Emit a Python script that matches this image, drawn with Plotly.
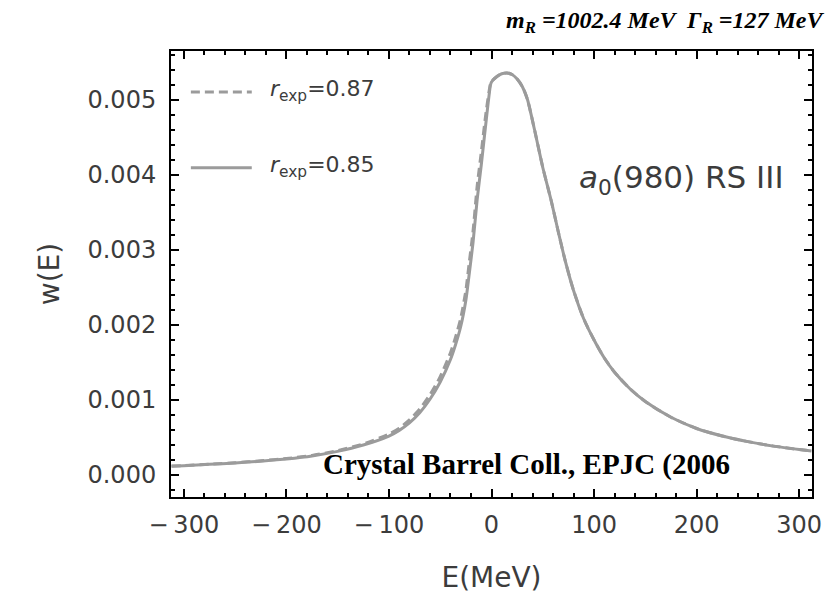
import plotly.graph_objects as go

# ---- data ----
E_MeV = [-312, -300, -275, -250, -225, -200, -175, -150, -125, -100, -90, -80, -70, -60, -50, -40, -35, -30,
         -25, -22, -18, -14, -10, -5, -1, 0, 5, 10, 15, 20, 25, 30, 35, 42, 50, 58, 65, 72, 80, 90, 100, 110,
         120, 135, 150, 175, 200, 225, 250, 275, 300, 312]
w_r085 = [0.000118, 0.000125, 0.000142, 0.000160, 0.000185, 0.000215, 0.000255, 0.000315, 0.000400, 0.000520,
          0.000595, 0.000695, 0.000830, 0.001010, 0.001240, 0.001540, 0.001740, 0.001980, 0.002330, 0.002650,
          0.003100, 0.003670, 0.004130, 0.004750, 0.005200, 0.005240, 0.005310, 0.005350, 0.005360, 0.005340,
          0.005280, 0.005180, 0.005010, 0.004600, 0.004100, 0.003670, 0.003250, 0.002850, 0.002460, 0.002080,
          0.001800, 0.001560, 0.001370, 0.001150, 0.000980, 0.000770, 0.000620, 0.000520, 0.000445, 0.000385,
          0.000340, 0.000320]
w_r087 = [0.000120, 0.000127, 0.000145, 0.000163, 0.000189, 0.000220, 0.000262, 0.000325, 0.000415, 0.000545,
          0.000625, 0.000735, 0.000880, 0.001070, 0.001310, 0.001630, 0.001840, 0.002090, 0.002460, 0.002800,
          0.003250, 0.003850, 0.004300, 0.004870, 0.005220, 0.005250, 0.005310, 0.005350, 0.005360, 0.005340,
          0.005280, 0.005180, 0.005010, 0.004600, 0.004100, 0.003670, 0.003250, 0.002850, 0.002460, 0.002080,
          0.001800, 0.001560, 0.001370, 0.001150, 0.000980, 0.000770, 0.000620, 0.000520, 0.000445, 0.000385,
          0.000340, 0.000320]

x_tickvals = [-300, -200, -100, 0, 100, 200, 300]
x_ticktext = ["\u2212\u2009300", "\u2212\u2009200", "\u2212\u2009100", "0", "100", "200", "300"]
y_tickvals = [0.000, 0.001, 0.002, 0.003, 0.004, 0.005]
y_ticktext = ["0.000", "0.001", "0.002", "0.003", "0.004", "0.005"]

series_labels = ["<i>r</i><sub>exp</sub>=0.87", "<i>r</i><sub>exp</sub>=0.85"]

LINE = "#9b9b9b"
TXT = "#3c3c3c"
FONT = "DejaVu Sans"

fig = go.Figure()
fig.add_trace(go.Scatter(x=E_MeV, y=w_r087, mode="lines", name=series_labels[0],
                         line=dict(color=LINE, width=3, dash="9px,5px", shape="spline", smoothing=0.6)))
fig.add_trace(go.Scatter(x=E_MeV, y=w_r085, mode="lines", name=series_labels[1],
                         line=dict(color=LINE, width=3, shape="spline", smoothing=0.6)))

axis_common = dict(showline=True, linecolor="black", linewidth=2, mirror="allticks",
                   ticks="inside", ticklen=8, tickwidth=2, tickcolor="black",
                   showgrid=False, zeroline=False,
                   tickfont=dict(family=FONT, size=24, color=TXT),
                   title_font=dict(family=FONT, size=28, color=TXT))

fig.update_xaxes(range=[-312.5, 312.5], tickvals=x_tickvals, ticktext=x_ticktext,
                 minor=dict(dtick=20, ticks="inside", ticklen=4, tickwidth=1.5, tickcolor="black"),
                 title_text="E(MeV)", title_standoff=30, ticklabelstandoff=5, **axis_common)
fig.update_yaxes(range=[-0.000293, 0.005653], tickvals=y_tickvals, ticktext=y_ticktext,
                 minor=dict(dtick=0.0002, tick0=0, ticks="inside", ticklen=4, tickwidth=1.5, tickcolor="black"),
                 title_text="w(E)", title_standoff=20, ticklabelstandoff=8, **axis_common)

# legend drawn inside the frame (Mathematica style)
leg_y = [0.908, 0.738]
dashes = ["9px,5px", "solid"]
for yy, lab, d in zip(leg_y, series_labels, dashes):
    fig.add_shape(type="line", xref="paper", yref="paper", x0=0.031, x1=0.126, y0=yy, y1=yy,
                  line=dict(color=LINE, width=3, dash=d))
    fig.add_annotation(xref="paper", yref="paper", x=0.152, y=yy + 0.003, xanchor="left", yanchor="middle",
                       text=lab, showarrow=False, font=dict(family=FONT, size=22, color=TXT))

fig.add_annotation(xref="paper", yref="paper", x=0.633, y=0.711, xanchor="left", yanchor="middle",
                   text="<i>a</i><sub>0</sub>(980) RS III", showarrow=False,
                   font=dict(family=FONT, size=31, color=TXT))
fig.add_annotation(xref="paper", yref="paper", x=0.77, y=1.066, xanchor="center", yanchor="middle",
                   text="<b><i>m<sub>R</sub> =1002.4 MeV  Γ<sub>R</sub> =127 MeV</i></b>", showarrow=False,
                   font=dict(family="Liberation Serif", size=24, color="black"))
fig.add_annotation(xref="paper", yref="paper", x=0.555, y=0.072, xanchor="center", yanchor="middle",
                   text="<b>Crystal Barrel Coll., EPJC (2006</b>", showarrow=False,
                   font=dict(family="Liberation Serif", size=29, color="black"))

fig.update_layout(width=834, height=609, margin=dict(l=171, r=13, t=51, b=112),
                  plot_bgcolor="white", paper_bgcolor="white", showlegend=False)

fig.write_html("out.html")
